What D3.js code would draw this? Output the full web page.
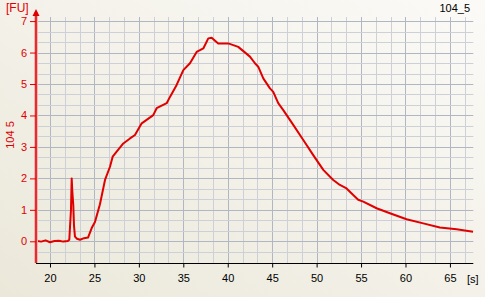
<!DOCTYPE html>
<html>
<head>
<meta charset="utf-8">
<script src="https://cdn.jsdelivr.net/npm/d3@7"></script>
<style>
  body { margin: 0; }
  svg { display: block; }
  text { font-family: "Liberation Sans", Arial, sans-serif; font-size: 11px; }
</style>
</head>
<body>
<script>
// values: time [s] and fluorescence [FU]
var times = [18.43, 19.0, 19.5, 20.0, 20.5, 21.0, 21.5, 22.0, 22.17, 22.36, 22.44, 22.51, 22.62, 22.7, 22.81,
  23.04, 23.38, 23.83, 24.28, 24.69, 25.06, 25.62, 26.19, 26.75, 27.05, 27.5, 28.25, 29.0, 29.56, 30.32,
  31.62, 32.0, 33.13, 33.5, 34.25, 35.0, 35.75, 36.5, 37.25, 37.81, 38.19, 38.93, 40.06, 41.18, 42.5,
  43.06, 43.43, 44.0, 44.75, 45.12, 45.68, 46.25, 47.37, 48.5, 49.62, 50.75, 51.87, 52.62, 53.37, 54.12,
  54.68, 55.25, 56.75, 58.25, 60.12, 62.0, 63.87, 65.75, 67.6];
var values = [0.02, -0.01, 0.03, -0.03, 0.01, 0.02, -0.01, 0.01, 0.05, 1.0, 2.0, 1.6, 1.15, 0.5, 0.15,
  0.08, 0.05, 0.1, 0.12, 0.42, 0.61, 1.18, 1.95, 2.37, 2.69, 2.85, 3.11, 3.27, 3.38, 3.75,
  4.01, 4.23, 4.39, 4.59, 4.97, 5.44, 5.66, 6.02, 6.13, 6.45, 6.47, 6.29, 6.29, 6.18, 5.87,
  5.66, 5.55, 5.18, 4.86, 4.75, 4.39, 4.17, 3.7, 3.22, 2.74, 2.27, 1.95, 1.79, 1.68, 1.47,
  1.32, 1.26, 1.05, 0.89, 0.7, 0.57, 0.44, 0.38, 0.3];
var xTicks = [20, 25, 30, 35, 40, 45, 50, 55, 60, 65];
var yTicks = [0, 1, 2, 3, 4, 5, 6, 7];

var width = 485, height = 297;
var plotLeft = 36, plotRight = 473.3, plotTop = 17, plotBottom = 263;

var svg = d3.select("body").append("svg")
    .attr("width", width)
    .attr("height", height);

var grad = svg.append("defs").append("linearGradient")
    .attr("id", "bg")
    .attr("x1", "0%").attr("y1", "100%")
    .attr("x2", "100%").attr("y2", "0%");
grad.append("stop").attr("offset", "0%").attr("stop-color", "#ebe8da");
grad.append("stop").attr("offset", "100%").attr("stop-color", "#fbfaf7");

svg.append("rect")
    .attr("width", width)
    .attr("height", height)
    .attr("fill", "url(#bg)");

var x = d3.scaleLinear().domain([18.425, 67.63]).range([plotLeft, plotRight]);
var y = d3.scaleLinear().domain([-0.69, 7.13]).range([plotBottom, plotTop]);

// grid, minor every 1/3 of a major step
var xMinor = d3.range(-1, 31).map(function(i) { return 20 + i * 5 / 3; })
    .filter(function(d) { return x(d) > plotLeft + 1 && x(d) <= plotRight; });
var yMinor = d3.range(-3, 23).map(function(i) { return i / 3; })
    .filter(function(d) { return y(d) < plotBottom - 1 && y(d) >= plotTop; });

var grid = svg.append("g");
grid.selectAll(".vx")
    .data(xMinor)
  .enter().append("line")
    .attr("x1", function(d) { return Math.round(x(d)) + 0.5; })
    .attr("x2", function(d) { return Math.round(x(d)) + 0.5; })
    .attr("y1", plotTop)
    .attr("y2", plotBottom)
    .attr("stroke", function(d) { return Math.abs(d / 5 - Math.round(d / 5)) < 0.01 ? "#b0b6c2" : "#cdd0d6"; });
grid.selectAll(".hy")
    .data(yMinor)
  .enter().append("line")
    .attr("x1", plotLeft)
    .attr("x2", plotRight)
    .attr("y1", function(d) { return Math.round(y(d)) + 0.5; })
    .attr("y2", function(d) { return Math.round(y(d)) + 0.5; })
    .attr("stroke", function(d) { return Math.abs(d - Math.round(d)) < 0.01 ? "#b0b6c2" : "#cdd0d6"; });

// x axis
var xAxis = svg.append("g")
    .attr("transform", "translate(0," + (plotBottom + 0.5) + ")")
    .call(d3.axisBottom(x).tickValues(xTicks).tickSize(4).tickPadding(7).tickSizeOuter(0));
xAxis.select(".domain").attr("stroke", "#000").attr("d", "M" + plotLeft + ",0H" + plotRight);
xAxis.selectAll(".tick line").attr("stroke", "#000");
xAxis.selectAll("text").attr("fill", "#000").style("font-size", "11px")
    .style("font-family", "'Liberation Sans', Arial, sans-serif");

svg.append("text")
    .attr("x", 467)
    .attr("y", 283)
    .attr("fill", "#000")
    .text("[s]");

// trace
var line = d3.line()
    .x(function(d, i) { return x(times[i]); })
    .y(function(d) { return y(d); });

svg.append("path")
    .datum(values)
    .attr("fill", "none")
    .attr("stroke", "#e00000")
    .attr("stroke-width", 2)
    .attr("stroke-linejoin", "round")
    .attr("d", line);

// y axis (red, with arrow)
svg.append("line")
    .attr("x1", plotLeft).attr("x2", plotLeft)
    .attr("y1", plotBottom).attr("y2", 12)
    .attr("stroke", "#f3b4b4")
    .attr("stroke-width", 4);
var yAxis = svg.append("g")
    .attr("transform", "translate(" + plotLeft + ",0)")
    .call(d3.axisLeft(y).tickValues(yTicks).tickSize(6).tickPadding(3).tickSizeOuter(0));
yAxis.select(".domain").attr("stroke", "#e00000").attr("stroke-width", 1.5)
    .attr("d", "M0," + plotBottom + "V12");
yAxis.selectAll(".tick line").attr("stroke", "#e00000");
yAxis.selectAll("text").attr("fill", "#e00000").style("font-size", "11px")
    .style("font-family", "'Liberation Sans', Arial, sans-serif");

svg.append("path")
    .attr("d", "M" + (plotLeft - 3.5) + ",16L" + plotLeft + ",9L" + (plotLeft + 3.5) + ",16Z")
    .attr("fill", "#e00000");

svg.append("text")
    .attr("x", 6)
    .attr("y", 12)
    .attr("fill", "#e00000")
    .style("font-size", "12px")
    .text("[FU]");

svg.append("text")
    .attr("transform", "translate(14,135) rotate(-90)")
    .attr("text-anchor", "middle")
    .attr("fill", "#e00000")
    .text("104 5");

svg.append("text")
    .attr("x", 470)
    .attr("y", 12)
    .attr("text-anchor", "end")
    .attr("fill", "#000")
    .text("104_5");
</script>
</body>
</html>
